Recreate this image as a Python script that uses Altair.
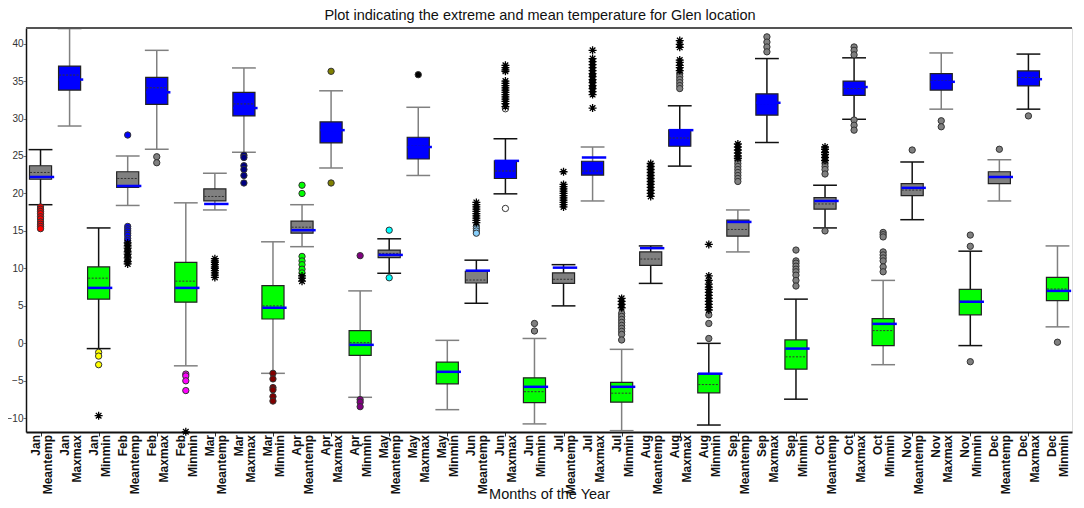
import altair as alt
import pandas as pd

months = ["Jan", "Feb", "Mar", "Apr", "May", "Jun", "Jul", "Aug", "Sep", "Oct", "Nov", "Dec"]
kinds = ["Meantemp", "Maxmax", "Minmin"]
labels = [f"{m} {k}" for m in months for k in kinds]

q3 = [23.7, 37.0, 10.2, 22.9, 35.5, 10.8, 20.6, 33.5, 7.7, 16.3, 29.55, 1.7,
      12.45, 27.5, -2.5, 9.6, 24.35, -4.6, 9.4, 24.3, -5.2, 12.2, 28.5, -4.05,
      16.45, 33.3, 0.45, 19.45, 35.0, 3.3, 21.3, 36.0, 7.2, 22.9, 36.35, 8.8]
q1 = [21.9, 33.8, 5.9, 20.8, 31.9, 5.5, 19.0, 30.35, 3.25, 14.7, 26.75, -1.6,
      11.45, 24.6, -5.4, 8.05, 22.0, -7.9, 8.0, 22.45, -7.85, 10.4, 26.3, -6.6,
      14.3, 30.45, -3.45, 17.9, 33.1, -0.3, 19.7, 33.8, 3.8, 21.3, 34.35, 5.7]
median = [22.8, 35.8, 8.7, 22.0, 34.1, 8.3, 19.6, 31.95, 5.0, 15.5, 28.4, 0.1,
          12.0, 26.3, -3.85, 8.45, 23.0, -6.45, 8.55, 23.0, -6.65, 11.25, 27.4, -5.5,
          15.2, 32.0, -1.8, 18.6, 34.0, 1.7, 20.45, 35.05, 5.6, 22.2, 35.45, 7.25]
mean = [22.2, 35.2, 7.4, 21.0, 33.5, 7.4, 18.6, 31.4, 4.75, 15.1, 28.45, -0.2,
        11.8, 26.2, -3.8, 9.7, 24.35, -5.8, 10.1, 24.8, -5.8, 12.7, 28.45, -4.05,
        16.2, 32.1, -0.7, 19.0, 34.2, 2.6, 20.75, 34.9, 5.55, 22.2, 35.25, 7.0]
whisker_hi = [25.85, 42.0, 15.4, 25.0, 39.1, 18.75, 22.7, 36.75, 13.55, 18.5, 33.7, 7.0,
              13.95, 31.5, 0.4, 11.1, 27.3, 0.65, 10.5, 26.2, -0.8, 13.0, 31.7, 0.0,
              17.8, 38.0, 5.9, 21.1, 38.1, 8.4, 24.2, 38.75, 12.3, 24.5, 38.6, 13.0]
whisker_lo = [18.5, 29.0, -0.7, 18.4, 25.9, -3.0, 17.8, 25.5, -4.0, 12.9, 23.4, -7.2,
              9.35, 22.4, -8.85, 5.35, 19.95, -10.75, 5.0, 19.0, -11.65, 8.0, 23.65, -10.9,
              12.2, 26.8, -7.45, 15.4, 29.9, -2.85, 16.5, 31.25, -0.3, 19.0, 31.25, 2.2]

# whisker colour per box: "k" black, "g" grey
whisker_tone = ["k", "g", "k", "g", "g", "g", "g", "g", "g", "g", "g", "g",
                "k", "g", "g", "k", "k", "g", "k", "g", "g", "k", "k", "k",
                "g", "k", "k", "k", "k", "g", "k", "g", "k", "g", "k", "g"]

circle_cats = ["Jan Meantemp", "Jan Minmin", "Feb Meantemp", "Feb Meantemp", "Feb Maxmax",
               "Feb Minmin", "Mar Maxmax", "Mar Minmin", "Apr Meantemp", "Apr Maxmax",
               "Apr Minmin", "May Meantemp", "May Maxmax", "Jun Meantemp", "Jun Maxmax",
               "Jun Minmin", "Jul Maxmax", "Jul Minmin", "Aug Maxmax", "Aug Minmin",
               "Sep Meantemp", "Sep Maxmax", "Sep Minmin", "Oct Meantemp", "Oct Maxmax",
               "Oct Minmin", "Nov Meantemp", "Nov Maxmax", "Nov Minmin", "Dec Meantemp",
               "Dec Maxmax", "Dec Minmin"]
circle_vals = [
    [18.2, 17.9, 17.6, 17.3, 16.9, 16.6, 16.2, 15.9, 15.6, 15.3],
    [-1.2, -1.7, -2.85],
    [27.8, 15.6, 15.3, 15.0, 14.7, 14.4, 14.0, 13.7],
    [13.2, 12.4, 11.6, 11.0],
    [24.9, 24.1],
    [-4.1, -4.35, -5.0, -6.3],
    [25.1, 24.8, 23.7, 23.2, 22.4, 21.4],
    [-4.0, -4.75, -5.9, -6.2, -7.1, -7.7],
    [21.1, 20.0, 11.6, 11.0, 10.5, 9.9, 9.4],
    [36.3, 21.4],
    [11.7, -7.5, -7.85, -8.45],
    [15.1, 8.75],
    [35.85],
    [15.6, 15.3, 15.0, 14.7],
    [31.3, 18.0],
    [2.65, 1.65],
    [35.8, 35.0, 34.2],
    [4.0, 3.6, 3.2, 2.8, 2.4, 2.0, 1.6, 1.2, 0.45],
    [36.0, 35.6, 35.2, 34.8, 34.4, 34.0],
    [3.8, 2.65, 0.65],
    [24.4, 24.0, 23.6, 23.2, 22.8, 22.4, 22.0, 21.6],
    [40.9, 40.2, 39.55, 38.9],
    [12.45, 11.0, 10.7, 10.3, 9.9, 9.55, 9.1, 8.4, 7.65],
    [24.0, 23.6, 23.2, 22.6, 15.0],
    [39.55, 39.1, 38.5, 29.8, 29.1, 28.45],
    [14.8, 14.5, 14.2, 12.2, 11.8, 11.4, 11.0, 10.2, 9.55],
    [25.8],
    [29.7, 28.9],
    [14.45, 12.95, -2.45],
    [25.9],
    [30.35],
    [0.15],
]
circle_colors = ["#FF0000", "#FFFF00", "#0000FF", "#A0A0A0", "#808080",
                 "#FF00FF", "#000080", "#800000", "#00FF00", "#808000",
                 "#800080", "#00FFFF", "#000000", "#87CEFA", "#FFFFFF",
                 "#808080", "#808080", "#808080", "#808080", "#808080",
                 "#808080", "#808080", "#808080", "#808080", "#808080",
                 "#808080", "#808080", "#808080", "#808080", "#808080",
                 "#808080", "#808080"]

star_cats = ["Jan Minmin", "Feb Meantemp", "Feb Minmin", "Mar Meantemp", "Apr Meantemp",
             "Jun Meantemp", "Jun Maxmax", "Jul Meantemp", "Jul Maxmax", "Jul Minmin",
             "Aug Meantemp", "Aug Maxmax", "Aug Minmin", "Sep Meantemp", "Oct Meantemp"]
star_vals = [
    [-9.65],
    [13.4, 13.0, 12.7, 12.2, 11.9, 11.4, 10.9, 10.6],
    [-11.8],
    [11.3, 11.0, 10.8, 10.5, 10.2, 10.0, 9.7, 9.4, 9.1, 8.8],
    [9.0, 8.7, 8.3],
    [18.8, 18.5, 18.2, 17.9, 17.6, 17.3, 17.0, 16.7, 16.4, 16.1],
    [37.1, 36.8, 36.5, 36.3, 35.0, 34.7, 34.4, 34.1, 33.8, 33.5, 33.2, 32.9, 32.6, 32.3, 32.0, 31.6],
    [22.9, 21.2, 20.9, 20.6, 20.3, 20.0, 19.7, 19.4, 19.1, 18.8, 18.5, 18.2],
    [39.1, 38.0, 37.6, 37.2, 36.8, 36.4, 36.0, 35.6, 35.2, 34.8, 34.4, 34.0, 33.6, 33.2, 31.4],
    [6.0, 5.6, 5.2, 4.75],
    [24.0, 23.6, 23.2, 22.8, 22.4, 22.0, 21.6, 21.2, 20.8, 20.4, 20.0, 19.6],
    [40.4, 39.9, 39.5, 37.8, 37.5, 37.1, 36.8, 36.4],
    [13.2, 9.0, 8.4, 7.9, 7.5, 7.2, 6.8, 6.4, 6.0, 5.6, 5.2, 4.8, 4.45],
    [26.6, 26.2, 25.8, 25.4, 25.0, 24.7],
    [26.2, 25.9, 25.5, 25.2, 24.8, 24.4],
]

box_fill = {"Meantemp": "#808080", "Maxmax": "#0000FF", "Minmin": "#00FF00"}
tone = {"k": "#111111", "g": "#808080"}

FONT = "Liberation Sans"
W, H = 1046, 404

boxes = pd.DataFrame({
    "pos": list(range(len(labels))),
    "label": labels,
    "tick_text": [l.replace(" ", "|") for l in labels],
    "q1": q1, "q3": q3, "median": median, "mean": mean,
    "lo": whisker_lo, "hi": whisker_hi,
    "fill": [box_fill[l.split(" ")[1]] for l in labels],
    "wcol": [tone[t] for t in whisker_tone],
})

crow = []
for cat, vals, col in zip(circle_cats, circle_vals, circle_colors):
    for v in vals:
        crow.append({"pos": labels.index(cat), "value": v, "fill": col})
circles = pd.DataFrame(crow)

srow = []
for cat, vals in zip(star_cats, star_vals):
    for v in vals:
        srow.append({"pos": labels.index(cat), "value": v})
stars = pd.DataFrame(srow)

xscale = alt.Scale(domain=[-0.5, len(labels) - 0.5], nice=False, zero=False)
yscale = alt.Scale(domain=[-11.83, 42.08], nice=False, zero=False)

x_axis = alt.Axis(values=list(range(len(labels))), labels=False,
                  tickSize=4, tickColor="#333", domainColor="#111", domainWidth=2,
                  title="Months of the Year", titleFont=FONT, titleFontSize=14.5,
                  titleFontWeight="normal", titleColor="#111", titleBaseline="alphabetic",
                  titleY=66, grid=False)
y_axis = alt.Axis(values=list(range(-10, 41, 5)), labelFont=FONT, labelFontSize=10,
                  labelColor="#333", tickSize=3, tickColor="#777", domainColor="#111",
                  domainWidth=1.5, title=None, grid=False, labelPadding=0)

base = alt.Chart(boxes)

stem = base.mark_rule(strokeWidth=1.5).encode(
    x=alt.X("pos:Q", scale=xscale, axis=x_axis),
    y=alt.Y("lo:Q", scale=yscale, axis=y_axis),
    y2="hi:Q",
    color=alt.Color("wcol:N", scale=None),
)

cap_hi = base.transform_calculate(l="datum.pos - 0.41", r="datum.pos + 0.41").mark_rule(strokeWidth=1.5).encode(
    x=alt.X("l:Q", scale=xscale), x2="r:Q", y=alt.Y("hi:Q", scale=yscale),
    color=alt.Color("wcol:N", scale=None))
cap_lo = base.transform_calculate(l="datum.pos - 0.41", r="datum.pos + 0.41").mark_rule(strokeWidth=1.5).encode(
    x=alt.X("l:Q", scale=xscale), x2="r:Q", y=alt.Y("lo:Q", scale=yscale),
    color=alt.Color("wcol:N", scale=None))

box = base.transform_calculate(l="datum.pos - 0.38", r="datum.pos + 0.38").mark_rect(
    stroke="#222", strokeWidth=1.2).encode(
    x=alt.X("l:Q", scale=xscale), x2="r:Q",
    y=alt.Y("q1:Q", scale=yscale), y2="q3:Q",
    fill=alt.Fill("fill:N", scale=None))

med = base.transform_calculate(l="datum.pos - 0.36", r="datum.pos + 0.36").mark_rule(
    color="#333", strokeWidth=1, strokeDash=[2, 1.5]).encode(
    x=alt.X("l:Q", scale=xscale), x2="r:Q", y=alt.Y("median:Q", scale=yscale))

mn = base.transform_calculate(l="datum.pos - 0.37", r="datum.pos + 0.47").mark_rule(
    color="#0000FF", strokeWidth=2.5).encode(
    x=alt.X("l:Q", scale=xscale), x2="r:Q", y=alt.Y("mean:Q", scale=yscale))

circ = alt.Chart(circles).mark_point(shape="circle", filled=True, size=40, opacity=1,
                                      stroke="#333", strokeWidth=1).encode(
    x=alt.X("pos:Q", scale=xscale), y=alt.Y("value:Q", scale=yscale),
    fill=alt.Fill("fill:N", scale=None))

star_path = "M0,-1L0,1M-1,0L1,0M-0.7,-0.7L0.7,0.7M-0.7,0.7L0.7,-0.7"
star = alt.Chart(stars).mark_point(shape=star_path, filled=False, size=64, opacity=1,
                                    color="#000", strokeWidth=1.3).encode(
    x=alt.X("pos:Q", scale=xscale), y=alt.Y("value:Q", scale=yscale))

tick_labels = base.mark_text(angle=270, align="right", baseline="middle", lineBreak="|",
                             font=FONT, fontSize=12, fontWeight="bold", lineHeight=12,
                             color="#111", dy=-5).encode(
    x=alt.X("pos:Q", scale=xscale), y=alt.value(H + 3), text="tick_text:N")

top = alt.Chart(boxes).mark_rule(color="#555", strokeWidth=1.5).encode(
    x=alt.value(0), x2=alt.value(W), y=alt.value(0))

chart = alt.layer(stem, cap_hi, cap_lo, box, med, mn, circ, star, tick_labels, top).properties(
    width=W, height=H,
    title=alt.TitleParams("Plot indicating the extreme and mean temperature for Glen location",
                          font=FONT, fontSize=14.5, fontWeight="normal", color="#111",
                          anchor="middle", dx=-9, offset=3.5, frame="group"),
    autosize=alt.AutoSizeParams(type="none"),
    padding={"left": 18, "top": 20, "right": 4, "bottom": 68},
).configure_view(stroke=None).configure(background="white")

chart.save("out.html", embed_options={"renderer": "svg", "actions": False})
